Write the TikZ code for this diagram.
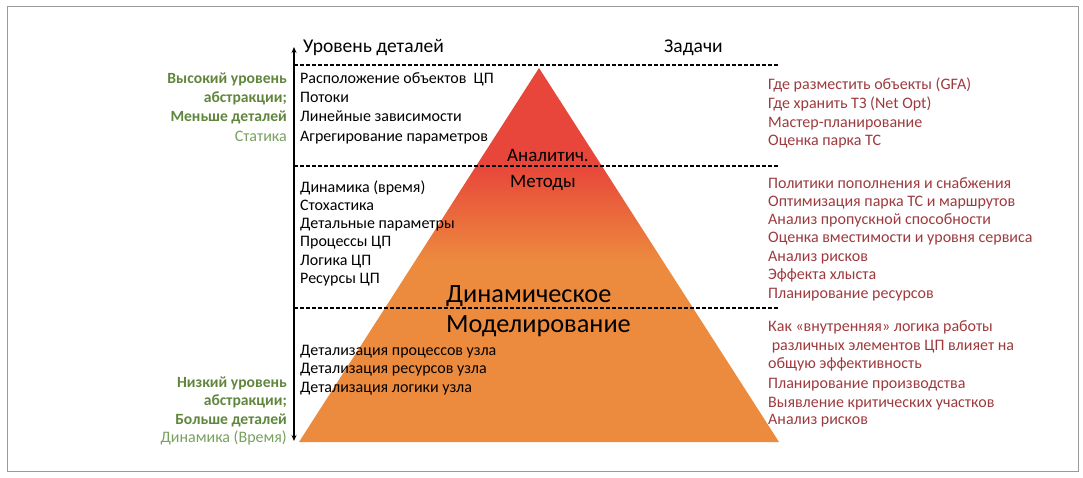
\documentclass[tikz,border=0pt]{standalone}
\usepackage{fontspec}
\setmainfont{Carlito}
\usetikzlibrary{arrows.meta}
\definecolor{pyrred}{RGB}{232,70,58}
\definecolor{pyrorange}{RGB}{236,139,62}
\definecolor{redtxt}{RGB}{158,58,62}
\definecolor{greenb}{RGB}{96,134,62}
\definecolor{greenl}{RGB}{120,160,95}
\definecolor{framec}{RGB}{154,154,154}
\pgfdeclareverticalshading{pyrshade}{100bp}{color(0bp)=(pyrorange); color(49bp)=(pyrorange); color(62bp)=(pyrred); color(100bp)=(pyrred)}
\begin{document}
\begin{tikzpicture}[x=1pt,y=-1pt,
  txt/.style={font=\fontsize{16}{19}\selectfont, inner sep=0pt},
  lbl/.style={txt, anchor=base west, yshift=-5.5pt},
  rlbl/.style={txt, anchor=base east, yshift=-5.5pt},
  tasktxt/.style={lbl, text=redtxt},
  greenbold/.style={rlbl, text=greenb, font=\fontsize{15.6}{19}\selectfont\bfseries},
  greenlight/.style={rlbl, text=greenl},
  head/.style={txt, anchor=base west, yshift=-7pt, font=\fontsize{19.5}{22}\selectfont},
  pyrlbl/.style={txt, anchor=base west, yshift=-7pt, font=\fontsize{19}{22}\selectfont},
  pyrbig/.style={txt, anchor=base west, yshift=-9.5pt, font=\fontsize{26.3}{30}\selectfont},
  sep/.style={dash pattern=on 4pt off 2pt, line width=1.1pt, black},
  axisline/.style={line width=1.2pt, {Stealth[length=6pt,width=5pt]}-{Stealth[length=6pt,width=5pt]}}
]
\useasboundingbox (0,0) rectangle (1083,478);
\draw[framec, line width=1pt] (7,7) rectangle (1078,471);

% pyramid
\coordinate (apex) at (539,68);
\coordinate (bl) at (299,442);
\coordinate (br) at (779,442);
\shade[shading=pyrshade] (apex) -- (br) -- (bl) -- cycle;

% axis
\coordinate (axtop) at (294,47);
\coordinate (axbot) at (294,441);
\draw[axisline] (axbot) -- (axtop);

% dashed separators
\coordinate (s1l) at (294,65);  \coordinate (s1r) at (779,65);
\coordinate (s2l) at (294,166); \coordinate (s2r) at (779,166);
\coordinate (s3l) at (294,308); \coordinate (s3r) at (779,308);
\draw[sep] (s1l) -- (s1r);
\draw[sep] (s2l) -- (s2r);
\draw[sep] (s3l) -- (s3r);

% headers
\node[head] (hlevel) at (303,46) {Уровень деталей};
\node[head] (htask) at (664,46) {Задачи};

% pyramid labels
\node[pyrlbl] (an) at (507,155) {Аналитич.};
\node[pyrlbl] (met) at (510,181) {Методы};
\node[pyrbig] (dyn) at (446,293) {Динамическое};
\node[pyrbig] (mod) at (446,323) {Моделирование};

% left labels
\node[greenbold] (g1) at (287,78) {Высокий уровень};
\node[greenbold] (g2) at (287,97) {абстракции;};
\node[greenbold] (g3) at (287,116) {Меньше деталей};
\node[greenlight] (g4) at (287,136) {Статика};
\node[greenbold] (g5) at (287,382) {Низкий уровень};
\node[greenbold] (g6) at (287,400) {абстракции;};
\node[greenbold] (g7) at (287,419) {Больше деталей};
\node[greenlight] (g8) at (287,437) {Динамика (Время)};

% middle column
\foreach \t/\y [count=\i] in {Расположение объектов~~ЦП/78, Потоки/97, Линейные зависимости/116, Агрегирование параметров/136}
  \node[lbl] (ma\i) at (300,\y) {\t};
\foreach \t/\y [count=\i] in {Динамика (время)/187, Стохастика/205, Детальные параметры/223, Процессы ЦП/241, Логика ЦП/260, Ресурсы ЦП/278}
  \node[lbl] (mb\i) at (300,\y) {\t};
\foreach \t/\y [count=\i] in {Детализация процессов узла/350, Детализация ресурсов узла/368, Детализация логики узла/387}
  \node[lbl] (mc\i) at (300,\y) {\t};

% right column
\foreach \t/\y [count=\i] in {Где разместить объекты (GFA)/84, Где хранить ТЗ (Net Opt)/103, Мастер-планирование/122, Оценка парка ТС/140}
  \node[tasktxt] (ta\i) at (768,\y) {\t};
\foreach \t/\y [count=\i] in {Политики пополнения и снабжения/183, Оптимизация парка ТС~и маршрутов/201, Анализ пропускной способности/219, Оценка вместимости и~уровня сервиса/237, Анализ рисков/256, Эффекта хлыста/274, Планирование ресурсов/293}
  \node[tasktxt] (tb\i) at (768,\y) {\t};
\foreach \t/\y [count=\i] in {Как «внутренняя» логика работы/326, ~различных элементов ЦП влияет на/345, общую эффективность/363, Планирование производства/383, Выявление критических участков/402, Анализ рисков/419}
  \node[tasktxt] (tc\i) at (768,\y) {\t};
\end{tikzpicture}
\end{document}
